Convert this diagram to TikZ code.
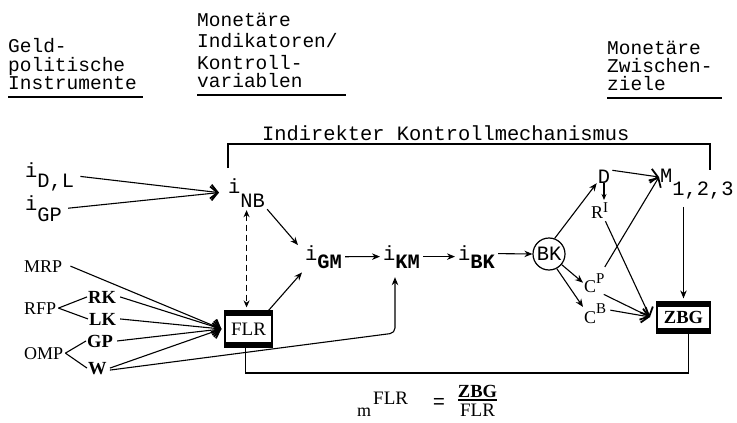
\documentclass[tikz,border=0pt]{standalone}
\usepackage{fontspec}
\setmainfont{Liberation Serif}
\newfontfamily\monofam{Liberation Mono}
\usetikzlibrary{arrows.meta}
\newcommand\twf{\monofam\fontsize{20.4}{20}\selectfont}
\newcommand\hdf{\monofam\fontsize{19.5}{19}\selectfont}
\newcommand\srf{\fontsize{18}{18}\selectfont}
\newcommand\srbf{\bfseries\fontsize{18.5}{18}\selectfont}
\newcommand\boxf{\fontsize{19}{19}\selectfont}
\newcommand\supf{\fontsize{15}{15}\selectfont}
\begin{document}
\begin{tikzpicture}[x=1pt,y=-1pt,
 tw/.style={font=\twf, inner sep=0pt, anchor=base west},
 hd/.style={font=\hdf, inner sep=0pt, anchor=base west},
 sr/.style={font=\srf, inner sep=0pt, anchor=base west},
 srb/.style={font=\srbf, inner sep=0pt, anchor=base west},
 conn/.style={line width=1.1pt},
 arr/.style={conn, -{Stealth[length=8pt,width=6.5pt]}},
 sarr/.style={conn, -{Stealth[length=6pt,width=5pt]}},
 barb/.style={conn, -{Straight Barb[length=7pt,width=14pt,line width=1.8pt]}},
 dsh/.style={conn, dash pattern=on 6pt off 4pt, {Stealth[length=7pt,width=6pt]}-{Stealth[length=7pt,width=6pt]}},
 barbox/.style={draw, line width=1.2pt, inner sep=0pt,
   path picture={\fill (path picture bounding box.north west) rectangle ([yshift=-5pt]path picture bounding box.north east);
                 \fill (path picture bounding box.south west) rectangle ([yshift=5pt]path picture bounding box.south east);}},
 uline/.style={line width=2pt},
]
\fill[white] (0,0) rectangle (737,423);
\useasboundingbox (0,0) rectangle (737,423);

% headers
\node[hd] (h1a) at (8,52) {Geld-};
\node[hd] (h1b) at (8,71) {politische};
\node[hd] (h1c) at (8,89) {Instrumente};
\draw[uline] (8,97) -- (143,97);
\node[hd] (h2a) at (197,26) {Monetäre};
\node[hd] (h2b) at (197,47) {Indikatoren/};
\node[hd] (h2c) at (197,69) {Kontroll-};
\node[hd] (h2d) at (197,87) {variablen};
\draw[uline] (197,95) -- (346,95);
\node[hd] (h3a) at (607,54) {Monetäre};
\node[hd] (h3b) at (607,72) {Zwischen-};
\node[hd] (h3c) at (607,90) {ziele};
\draw[uline] (607,98) -- (722,98);

% bracket
\node[tw] (ikm) at (262,140) {Indirekter Kontrollmechanismus};
\draw[line width=1.6pt] (228,168) -- (228,144) -- (710,144) -- (710,170);

% interest rate nodes
\node[tw] (iDL) at (25,177) {i\raisebox{-10pt}{D,L}};
\node[tw] (iGP) at (25,210) {i\raisebox{-11pt}{GP}};
\node[tw] (iNB) at (228,193) {i\raisebox{-14pt}{NB}};
\node[tw] (iGM) at (305,260) {i\raisebox{-8pt}{\bfseries GM}};
\node[tw] (iKM) at (383,260) {i\raisebox{-8pt}{\bfseries KM}};
\node[tw] (iBK) at (458,260) {i\raisebox{-8pt}{\bfseries BK}};
\node[circle, draw, line width=1.2pt, minimum size=32pt, inner sep=0pt, font=\twf] (bk) at (549,254) {BK};

% right side
\node[tw, anchor=base] (D) at (604,183) {D};
\node[tw] (M) at (660,182) {M\raisebox{-13pt}{1,2,3}};
\node[sr] (RI) at (591,218) {R\raisebox{6pt}{\supf I}};
\node[sr] (CP) at (584,292) {C\raisebox{9pt}{\supf P}};
\node[sr] (CB) at (584,323) {C\raisebox{10pt}{\supf B}};
\node[barbox, minimum width=53pt, minimum height=31pt, font=\srbf] (zbg) at (683.5,317.5) {ZBG};

% left instruments
\node[sr] (mrp) at (24,272) {MRP};
\node[sr] (rfp) at (24,314) {RFP};
\node[sr] (omp) at (24,359) {OMP};
\node[srb] (rk) at (88,303) {RK};
\node[srb] (lk) at (89,325) {LK};
\node[srb] (gp) at (87,347) {GP};
\node[srb] (w) at (88,374) {W};
\node[barbox, minimum width=47pt, minimum height=36pt, font=\boxf] (flr) at (248.5,329) {FLR};

% formula
\node[sr] (fm) at (357,416) {m};
\node[font=\boxf, inner sep=0pt, anchor=base west] (fsup) at (373,404) {FLR};
\node[tw, anchor=base] (feq) at (439,408) {=};
\node[font=\srbf, inner sep=0pt, anchor=base] (fnum) at (477.5,397) {ZBG};
\node[font=\boxf, inner sep=0pt, anchor=base] (fden) at (477.5,416) {FLR};
\draw[line width=1.8pt] ([yshift=-2.5pt]fnum.south west) -- ([yshift=-2.5pt]fnum.south east);

% connectors: instruments
\draw[conn] ([xshift=2pt]rfp.east) -- ([xshift=-1pt]rk.west);
\draw[conn] ([xshift=2pt]rfp.east) -- ([xshift=-1pt]lk.west);
\draw[conn] ([xshift=2pt]omp.east) -- ([xshift=-1pt]gp.west);
\draw[conn] ([xshift=2pt]omp.east) -- ([xshift=-1pt]w.west);
\coordinate (flrin) at ([xshift=-3pt]flr.west);
\draw[barb] ([xshift=8pt]mrp.east) -- (flrin);
\draw[barb] ([xshift=4pt]rk.east) -- (flrin);
\draw[barb] ([xshift=4pt]lk.east) -- (flrin);
\draw[barb] ([xshift=4pt]gp.east) -- (flrin);
\draw[barb] ([xshift=3pt]w.east) -- (flrin);
\coordinate (kmcorner) at (395,333);
\draw[arr, rounded corners=5pt] ([xshift=3pt,yshift=-2pt]w.east) -- (kmcorner) -- ([yshift=-9pt]kmcorner |- iKM.south);

% connectors: rates
\coordinate (nbin) at ([xshift=-9pt]iNB.west);
\draw[barb] ([xshift=6pt]iDL.east) -- (nbin);
\draw[barb] ([xshift=6pt]iGP.east) -- (nbin);
\draw[dsh, shorten <=3pt, shorten >=3pt] (iNB.south) -- (iNB.south |- flr.north);
\draw[arr] ([xshift=2pt,yshift=-2pt]iNB.south east) -- ([xshift=-7pt]iGM.north west);
\draw[arr] ([xshift=-4pt]flr.north east) -- ([xshift=-3pt,yshift=-4pt]iGM.south west);
\draw[arr] ([xshift=3pt]iGM.east) -- ([xshift=-3pt]iKM.west);
\draw[arr] ([xshift=3pt]iKM.east) -- ([xshift=-3pt]iBK.west);
\draw[arr] ([xshift=3pt,yshift=3pt]iBK.east) -- (bk.west);

% connectors: right side
\draw[arr] (bk.70) -- ([xshift=-1pt]D.south west);
\coordinate (min) at (659,177);
\draw[barb] ([xshift=2pt,yshift=6pt]D.east) -- (min);
\draw[barb] ([yshift=6pt]CP.north east) -- (min);
\draw[sarr] (D.south) -- ([yshift=2pt]D.south |- RI.north);
\coordinate (zin) at (650,317);
\draw[barb] ([xshift=-3pt,yshift=-3pt]RI.south east) -- (zin);
\draw[barb] ([xshift=-1pt,yshift=-2pt]CP.south east) -- (zin);
\draw[barb] ([xshift=4pt,yshift=3pt]CB.east) -- (zin);
\draw[arr, shorten <=8pt, shorten >=3pt] (zbg.north |- M.south) -- (zbg.north);
\draw[arr] (bk.-40) -- ([xshift=-1pt]CP.west);
\draw[arr] (bk.-62) -- ([xshift=-1pt,yshift=-4pt]CB.north west);

% feedback line
\coordinate (fb) at (500,373);
\draw[line width=1.5pt] ([xshift=5pt]zbg.south) |- (fb) -| ([xshift=-3pt]flr.south);
\end{tikzpicture}
\end{document}
